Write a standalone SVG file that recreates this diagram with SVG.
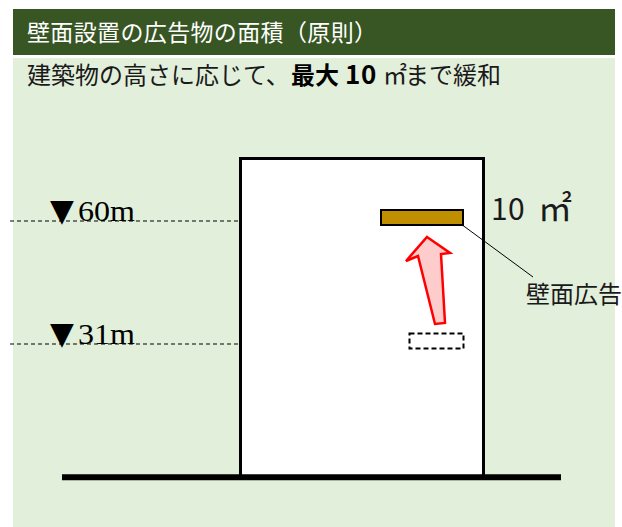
<svg xmlns="http://www.w3.org/2000/svg" width="622" height="527" viewBox="0 0 622 527">
  <style>
    .jp { font-family: "Noto Sans CJK JP", "Noto Sans", sans-serif; }
    .lvl { font-family: "Liberation Serif", "DejaVu Serif", serif; fill: #000; }
    .tri { font-family: "DejaVu Sans", sans-serif; fill: #000; }
    .dash { stroke: #000; stroke-width: 1.2; stroke-dasharray: 4 3; fill: none; }
  </style>
  <rect x="0" y="0" width="622" height="527" fill="#ffffff"/>
  <rect id="panel" x="13" y="58" width="602" height="469" fill="#E2EFDA"/>
  <g id="header">
    <rect x="13" y="9" width="602" height="46" fill="#375623"/>
    <text class="jp" x="27" y="41" font-size="23" fill="#ffffff" textLength="350" lengthAdjust="spacing">壁面設置の広告物の面積（原則）</text>
  </g>
  <g id="subtitle" class="jp" fill="#1a1a1a">
    <text x="27" y="84" font-size="24">建築物の高さに応じて、<tspan x="291" font-weight="bold" fill="#000">最大</tspan><tspan x="345 361" font-weight="bold" font-size="26" fill="#000">10</tspan><tspan x="383" font-size="24">㎡</tspan><tspan x="405">まで緩和</tspan></text>
  </g>
  <g id="building">
    <rect x="240.5" y="158.5" width="243" height="318" fill="#ffffff" stroke="#000" stroke-width="3"/>
  </g>
  <g id="ground">
    <line x1="62" y1="477.3" x2="561" y2="477.3" stroke="#000" stroke-width="6"/>
  </g>
  <g id="connectors">
    <line class="dash" x1="10" y1="221" x2="240" y2="221"/>
    <line class="dash" x1="10" y1="344" x2="240" y2="344"/>
    <line x1="446" y1="213" x2="533" y2="277" stroke="#000" stroke-width="1"/>
  </g>
  <g id="level60">
    <text class="tri" x="50" y="221" font-size="31">▼</text>
    <text class="lvl" x="78" y="221" font-size="30" textLength="57" lengthAdjust="spacingAndGlyphs">60m</text>
  </g>
  <g id="level31">
    <text class="tri" x="50" y="344" font-size="31">▼</text>
    <text class="lvl" x="78" y="344" font-size="30" textLength="57" lengthAdjust="spacingAndGlyphs">31m</text>
  </g>
  <g id="sign">
    <rect x="381" y="210" width="82" height="15" fill="#BF8F00" stroke="#000" stroke-width="2"/>
  </g>
  <g id="sign-original">
    <rect x="409.5" y="333.5" width="54" height="15" fill="#ffffff" stroke="#000" stroke-width="2" stroke-dasharray="5 3"/>
  </g>
  <g id="arrow">
    <polygon points="427,237 450,253 441,254 445,323 435,324 418,256 406,261" fill="#FFCCCC" stroke="#FF0000" stroke-width="2.5" stroke-linejoin="miter"/>
  </g>
  <g id="area-label">
    <text class="jp" x="491 508" y="220" font-size="30" fill="#1a1a1a">10</text>
    <text class="jp" x="538" y="221" font-size="34" fill="#1a1a1a">㎡</text>
  </g>
  <g id="sign-label">
    <text class="jp" x="526" y="303" font-size="24" fill="#1a1a1a">壁面広告</text>
  </g>
</svg>
